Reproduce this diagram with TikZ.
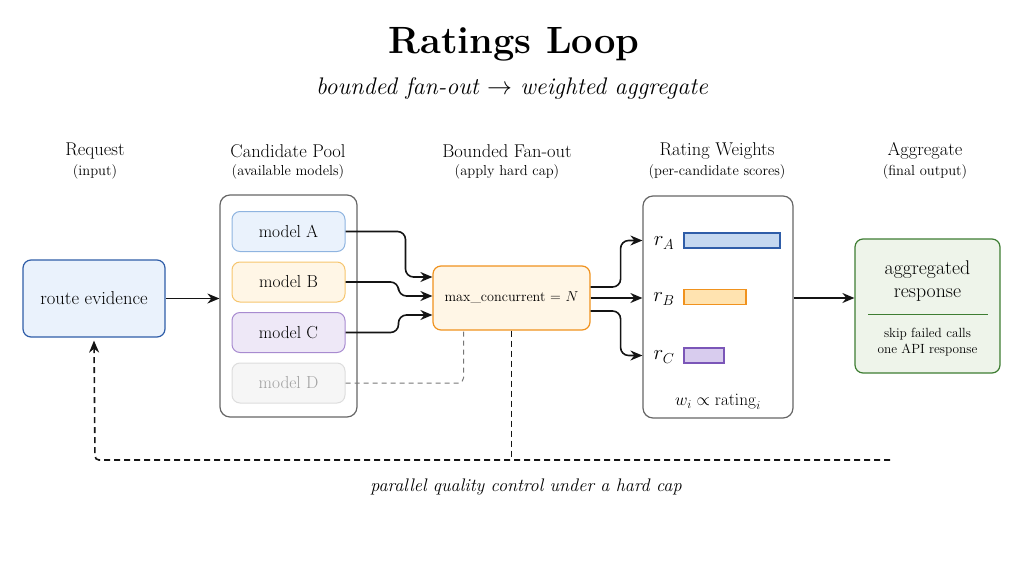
\documentclass[tikz,border=0pt]{standalone}
\usetikzlibrary{arrows.meta}
\definecolor{bluebd}{HTML}{2F5DA8}
\definecolor{bluefill}{HTML}{EAF2FC}
\definecolor{bluelt}{HTML}{8FB4E0}
\definecolor{orgbd}{HTML}{F0921E}
\definecolor{orgfill}{HTML}{FFF6E6}
\definecolor{orglt}{HTML}{F6C56E}
\definecolor{purbd}{HTML}{7B56B8}
\definecolor{purfill}{HTML}{EEE8F7}
\definecolor{purlt}{HTML}{A88BD0}
\definecolor{grayfill}{HTML}{F6F6F6}
\definecolor{graybd}{HTML}{DDDDDD}
\definecolor{graytx}{HTML}{A0A0A0}
\definecolor{contbd}{HTML}{666666}
\definecolor{greenbd}{HTML}{3E7D32}
\definecolor{greenfill}{HTML}{EEF4EA}
\definecolor{barA}{HTML}{C5D8F0}
\definecolor{barB}{HTML}{FFE3B0}
\definecolor{barC}{HTML}{D8CCEE}
\definecolor{dashgray}{HTML}{777777}
\definecolor{ink}{HTML}{141414}
\newcommand{\fs}[1]{\fontsize{#1}{1.2\dimexpr #1pt\relax}\selectfont}
\begin{document}
\begin{tikzpicture}[x=1pt,y=-1pt,
  every node/.style={text=black},
  box/.style={draw, rounded corners=8pt, line width=1.2pt, align=center, inner sep=0pt},
  modelbox/.style={box, line width=1pt, minimum width=113pt, minimum height=40pt, font=\fs{17.4}},
  arr/.style={-{Stealth[length=12pt,width=10pt]}, line width=1.6pt, draw=ink},
  hdr/.style={font=\fs{18.5}, align=center},
  sub/.style={font=\fs{14.5}, align=center},
  bar/.style={draw, line width=1.2pt, inner sep=0pt},
  rl/.style={font=\fs{21}, anchor=center},
  fbdash/.style={dash pattern=on 6pt off 4pt}
]
\useasboundingbox (0,0) rectangle (1028,578);

% titles
\node[font=\bfseries\fs{38}] (title) at (514,44) {Ratings Loop};
\node[font=\itshape\fs{24}] (subt) at (512,89) {bounded fan-out $\rightarrow$ weighted aggregate};

% headers
\node[hdr] (h1) at (95,151) {Request};
\node[sub] (s1) at (95,172) {(input)};
\node[hdr] (h2) at (288,151) {Candidate Pool};
\node[sub] (s2) at (288,172) {(available models)};
\node[hdr] (h3) at (507,151) {Bounded Fan-out};
\node[sub] (s3) at (507,172) {(apply hard cap)};
\node[hdr] (h4) at (717,151) {Rating Weights};
\node[sub] (s4) at (717,172) {(per-candidate scores)};
\node[hdr] (h5) at (925,151) {Aggregate};
\node[sub] (s5) at (925,172) {(final output)};

% request
\node[box, draw=bluebd, fill=bluefill, minimum width=142pt, minimum height=77pt, font=\fs{18.6}] (req) at (94,298.5) {route evidence};

% pool
\node[box, draw=contbd, rounded corners=10pt, minimum width=137pt, minimum height=222pt] (pool) at (288.5,306) {};
\node[modelbox, draw=bluelt, fill=bluefill] (mA) at (288.5,231.5) {model A};
\node[modelbox, draw=orglt, fill=orgfill] (mB) at (288.5,282) {model B};
\node[modelbox, draw=purlt, fill=purfill] (mC) at (288.5,332.5) {model C};
\node[modelbox, draw=graybd, fill=grayfill, text=graytx] (mD) at (288.5,383) {model D};

% fanout
\node[box, draw=orgbd, fill=orgfill, minimum width=157pt, minimum height=64pt, font=\fs{14.2}] (fan) at (511.5,298) {max\_concurrent = $N$};

% rating weights
\node[box, draw=contbd, rounded corners=10pt, minimum width=150pt, minimum height=222pt] (rw) at (718,307) {};
\node[rl] (rA) at (664,243) {$r_A$};
\node[rl] (rB) at (664,299) {$r_B$};
\node[rl] (rC) at (664,357) {$r_C$};
\node[bar, draw=bluebd, fill=barA, minimum width=96pt, minimum height=15pt] (bA) at (732,240.5) {};
\node[bar, draw=orgbd, fill=barB, minimum width=62pt, minimum height=15pt] (bB) at (715,297) {};
\node[bar, draw=purbd, fill=barC, minimum width=40pt, minimum height=15pt] (bC) at (704,355.5) {};
\node[font=\fs{17}] (wf) at (718,402) {$w_i \propto \mathrm{rating}_i$};

% aggregate
\node[box, draw=greenbd, fill=greenfill, minimum width=145pt, minimum height=134pt] (agg) at (927.5,306) {};
\node[font=\fs{19.8}, align=center] (aggt) at (927.5,281) {aggregated\\[-1pt]response};
\coordinate (gl1) at (868,314);
\coordinate (gl2) at (988,314);
\draw[greenbd, line width=0.9pt] (gl1) -- (gl2);
\node[font=\fs{13.3}, align=center] (aggs) at (927.5,342) {skip failed calls\\one API response};

% arrows
\draw[arr] (req.east) -- (pool.west |- req.east);
\draw[arr, rounded corners=8pt] (mA.east) -- ++(60,0) |- ([yshift=21pt]fan.west);
\draw[arr, rounded corners=8pt] (mB.east) -- ++(53,0) |- ([yshift=2pt]fan.west);
\draw[arr, rounded corners=8pt] (mC.east) -- ++(53,0) |- ([yshift=-17pt]fan.west);
\draw[dashgray, dash pattern=on 5pt off 4pt, line width=1pt, rounded corners=5pt] (mD.east) -| ([xshift=-48pt]fan.south);

\draw[arr, rounded corners=8pt] ([yshift=11pt]fan.east) -- ++(30,0) |- (rw.west |- bA);
\draw[arr] (fan.east) -- (rw.west |- fan.east);
\draw[arr, rounded corners=8pt] ([yshift=-13pt]fan.east) -- ++(30,0) |- (rw.west |- bC);

\draw[arr] (rw.east |- fan.east) -- (agg.west |- fan.east);

% feedback
\coordinate (fbr) at (890,460);
\coordinate (fbl) at (95,460);
\draw[ink, fbdash, line width=1.5pt] (fan.south) -- (fan.south |- fbr);
\draw[arr, fbdash, rounded corners=4pt] (fbr) -- (fbl) -- ([yshift=-3pt]req.south);

\node[font=\itshape\fs{18.2}] (cap) at (526,487) {parallel quality control under a hard cap};
\end{tikzpicture}
\end{document}
